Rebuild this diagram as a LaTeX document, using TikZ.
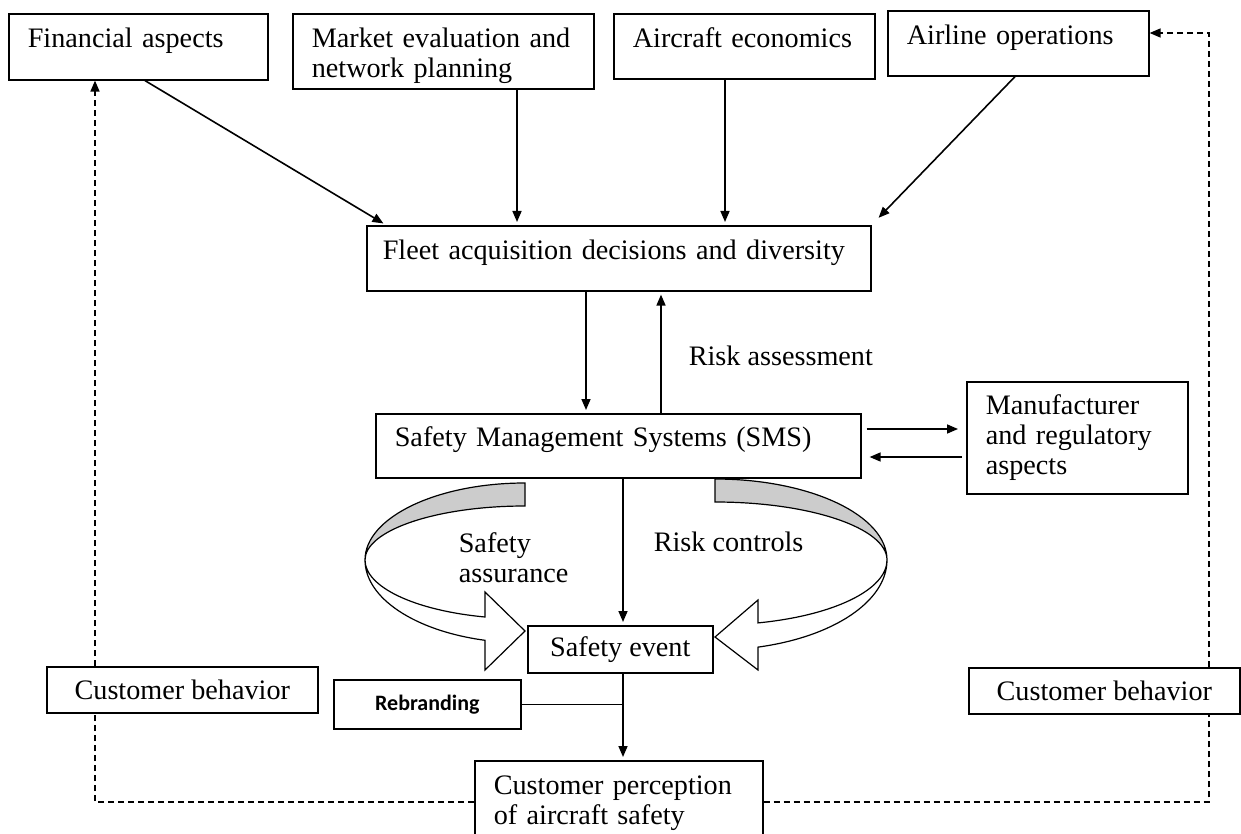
\documentclass[tikz,border=0pt]{standalone}
\usepackage{fontspec}
\setmainfont{Liberation Serif}
\newfontfamily\rebrfont{Carlito}
\usetikzlibrary{arrows.meta}
\begin{document}
\begin{tikzpicture}[x=0.5pt,y=-0.5pt,line width=0.8pt,
		font=\fontsize{14.1}{15}\selectfont,
		>={Triangle[length=5.5pt,width=4.5pt]},
		upbox/.style={text height=10pt, text depth=9pt},
		loopline/.style={dash pattern=on 3pt off 2pt},
		ribbon/.style={line width=0.6pt}]
	\useasboundingbox (0,0) rectangle (1241,834);
	\begin{scope}[every node/.style={draw, fill=white, anchor=north west, align=left, inner xsep=9.5pt}]
		\node (fin)[upbox, text width=110.5pt, minimum height=33pt] at (8,13) {Financial aspects};
		\node (mkt)[text width=131.5pt, text height=14pt, inner ysep=2pt, minimum height=37.5pt] at (292,13) {Market evaluation and\\network planning};
		\node (acf)[upbox, text width=111.5pt, minimum height=32.5pt] at (613,13) {Aircraft economics};
		\node (air)[upbox, text width=111.5pt, minimum height=32.5pt] at (887,10) {Airline operations};
		\node (fleet)[upbox, inner xsep=8pt, text width=236pt, minimum height=32.5pt] at (366,225) {Fleet acquisition decisions and diversity};
		\node (sms)[upbox, text width=223.5pt, minimum height=32pt] at (375,413) {Safety Management Systems (SMS)};
		\node (mfr)[text width=91.5pt, minimum height=56pt] at (966,381) {Manufacturer\\and regulatory\\aspects};
		\node (evt)[align=center, minimum width=92.5pt, minimum height=23.5pt] at (527,625) {Safety event};
		\node (cbl)[align=center, minimum width=135.5pt, minimum height=23pt] at (46,666) {Customer behavior};
		\node (cbr)[align=center, minimum width=135.5pt, minimum height=23pt] at (968,667) {Customer behavior};
		\node (rebr)[align=center, minimum width=93.5pt, minimum height=24.5pt,
			font={\rebrfont\fontsize{11}{12}\selectfont\bfseries}] at (333,679) {Rebranding};
		\node (perc)[text width=125pt, minimum height=42.8pt] at (474,760) {Customer perception\\of aircraft safety};
	\end{scope}
	\begin{scope}[every node/.style={inner sep=0pt}]
		\node (ra)[anchor=west] at (688,356) {Risk assessment};
		\node (rc)[anchor=west] at (653,542) {Risk controls};
		\node (sa)[anchor=north west, align=left] at (458,532) {Safety\\assurance};
	\end{scope}
	\begin{scope}[every edge/.style={draw, ->, shorten >=1.5pt}]
		\path (fin.south -| 145,0) edge (fleet.north -| 386,0);
		\path (mkt.south -| 517,0) edge (fleet.north -| 517,0);
		\path (acf.south -| 725,0) edge (fleet.north -| 725,0);
		\path (air.south -| 1015,0) edge [shorten >=5pt] (fleet.north east);
		\path (fleet.south -| 586,0) edge (sms.north -| 586,0);
		\path (sms.north -| 661,0) edge (fleet.south -| 661,0);
		\path (sms.east |- 0,429) edge [shorten <=2.5pt, shorten >=4pt] (mfr.west |- 0,429);
		\path (mfr.west |- 0,457) edge [shorten <=2pt, shorten >=4pt] (sms.east |- 0,457);
		\path (sms.south -| 623,0) edge (evt.north -| 623,0);
		\path (evt.south -| 623,0) edge (perc.north -| 623,0);
	\end{scope}
	\draw (rebr.east) -- (rebr.east -| 623,0);
	% feedback loops
	\coordinate (bl) at (95,802);
	\coordinate (br) at (1209,802);
	\coordinate (tr) at (1209,33);
	\draw[loopline] (perc.west |- bl) -- (bl) -- (cbl.south -| bl);
	\draw[loopline, ->] (cbl.north -| bl) -- (fin.south -| bl);
	\draw[loopline] (perc.east |- br) -- (br) -- (cbr.south -| br);
	\draw[loopline, ->] (cbr.north -| br) -- (tr) -- (air.east |- tr);
	% circular arrows
	\draw[ribbon, fill=gray!40] (525,483) .. controls (436.6,483) and (365,517.5) .. (365,560)
		.. controls (365,530.2) and (436.6,506) .. (525,506) -- cycle;
	\draw[ribbon, fill=white] (365,560) .. controls (365,586.9) and (414.4,610.4) .. (485,617)
		-- (485,592) -- (525,631) -- (485,670) -- (485,640.3)
		.. controls (414.4,630.8) and (365,597.8) .. (365,560) -- cycle;
	\draw[ribbon, fill=gray!40] (715,479) .. controls (810,479) and (887,515.3) .. (887,560)
		.. controls (887,528) and (810,502) .. (715,502) -- cycle;
	\draw[ribbon, fill=white] (887,560) .. controls (887,589.6) and (833.9,615.5) .. (758,622.9)
		-- (758,600) -- (715,637) -- (758,670) -- (758,647.1)
		.. controls (833.9,636.8) and (887,601) .. (887,560) -- cycle;
\end{tikzpicture}
\end{document}
